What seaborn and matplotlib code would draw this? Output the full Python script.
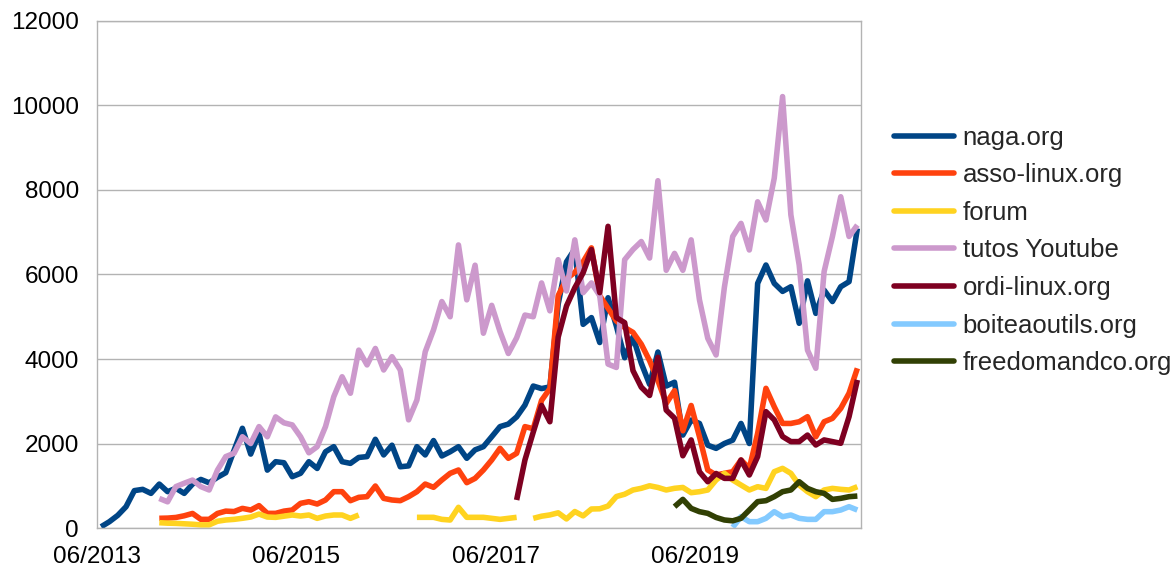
import numpy as np
import pandas as pd
import matplotlib
matplotlib.use("Agg")
import matplotlib.pyplot as plt
from matplotlib.lines import Line2D
import seaborn as sns

# Données mensuelles : 06/2013 -> 01/2021 (92 mois), None = pas de donnée
N = None

sites = ["naga.org", "asso-linux.org", "forum", "tutos Youtube",
         "ordi-linux.org", "boiteaoutils.org", "freedomandco.org"]
colors = ["#004586", "#ff420e", "#ffd320", "#cc99cc",
          "#7e0021", "#83caff", "#314004"]

tick_months = [0, 24, 48, 72]
tick_labels = ["06/2013", "06/2015", "06/2017", "06/2019"]

naga = [30, 150, 300, 505, 885, 915, 820, 1040, 860, 940,
        820, 1040, 1150, 1070, 1200, 1310, 1840, 2360, 1750, 2240,
        1370, 1570, 1545, 1215, 1295, 1570, 1410, 1805, 1925, 1570,
        1530, 1670, 1690, 2100, 1730, 1960, 1450, 1470, 1925, 1730,
        2070, 1705, 1805, 1925, 1650, 1850, 1925, 2160, 2400, 2460,
        2630, 2910, 3360, 3300, 3340, 5300, 6300, 6600, 4820, 4980,
        4390, 5450, 4780, 4030, 4520, 3900, 3400, 4165, 3360, 3450,
        2200, 2555, 2475, 1960, 1885, 2000, 2080, 2475, 2000, 5790,
        6225, 5790, 5600, 5710, 4845, 5850, 5080, 5630, 5360, 5710,
        5830, 7090]

asso = [N, N, N, N, N, N, N, 230, 235, 250,
        290, 345, 205, 205, 345, 400, 390, 465, 426, 530,
        347, 347, 400, 426, 584, 623, 568, 663, 860, 860,
        647, 726, 742, 994, 702, 663, 647, 742, 860, 1041,
        963, 1136, 1294, 1373, 1073, 1175, 1373, 1610, 1886, 1650,
        1768, 2400, 2350, 3020, 3300, 5500, 5900, 6050, 6300, 6630,
        5500, 5200, 4900, 4745, 4630, 4350, 3960, 3490, 2950, 3250,
        2300, 2900, 2160, 1373, 1255, 1294, 1333, 1610, 1412, 2240,
        3306, 2870, 2475, 2475, 2515, 2635, 2160, 2515, 2595, 2830,
        3190, 3780]

forum = [N, N, N, N, N, N, N, 126, 115, 110,
         100, 90, 75, 75, 160, 190, 205, 230, 260, 330,
         260, 252, 280, 308, 284, 308, 229, 284, 308, 308,
         229, 308, N, N, N, N, N, N, 253, 253,
         253, 205, 189, 490, 253, 253, 253, 229, 205, 229,
         253, N, 229, 280, 310, 360, 215, 390, 287, 450,
         455, 520, 745, 800, 900, 940, 1000, 960, 900, 940,
         960, 836, 860, 900, 1136, 1294, 1136, 1017, 900, 978,
         938, 1333, 1412, 1294, 1017, 860, 742, 900, 938, 915,
         900, 978]

tutos = [N, N, N, N, N, N, N, 700, 620, 980,
         1060, 1135, 980, 900, 1370, 1690, 1770, 2160, 2000, 2400,
         2160, 2630, 2490, 2440, 2160, 1780, 1925, 2400, 3110, 3580,
         3190, 4210, 3860, 4250, 3740, 4055, 3740, 2560, 3030, 4170,
         4690, 5360, 5000, 6700, 5400, 6220, 4610, 5270, 4650, 4130,
         4500, 5040, 5000, 5800, 5140, 6350, 5610, 6820, 5570, 5800,
         5500, 3880, 3800, 6350, 6590, 6780, 6390, 8220, 6100, 6500,
         6100, 6820, 5400, 4490, 4095, 5700, 6900, 7210, 6580, 7720,
         7290, 8280, 10210, 7410, 6225, 4210, 3780, 6070, 6900, 7840,
         6900, 7170]

ordi = [N] * 50 + [663, 1610, 2270, 2900, 2515, 4520, 5255, 5686, 6040, 6590,
                   5570, 7140, 4980, 4860, 3725, 3333, 3137, 4040, 2790, 2600,
                   1710, 2085, 1330, 1095, 1290, 1175, 1175, 1610, 1255, 1690,
                   2755, 2560, 2165, 2045, 2045, 2200, 1965, 2085, 2045, 2005,
                   2635, 3505]

boite = [N] * 76 + [16, 268, 150, 150, 229, 387, 268, 308, 229, 205,
                    205, 387, 387, 426, 505, 426]

freedom = [N] * 69 + [505, 678, 465, 387, 347, 250, 190, 170, 230, 426,
                      624, 647, 742, 860, 900, 1096, 938, 860, 820, 678,
                      702, 742, 757]

series = [naga, asso, forum, tutos, ordi, boite, freedom]

# Tableau long : un "run" par tronçon continu (les trous restent des trous)
rows = []
for site, values in zip(sites, series):
    run = 0
    prev_ok = False
    for i, v in enumerate(values):
        if v is None:
            prev_ok = False
            continue
        if not prev_ok:
            run += 1
        rows.append({"mois": i + 0.5, "visites": v, "site": site,
                     "run": f"{site}-{run}"})
        prev_ok = True
df = pd.DataFrame(rows)

sns.set_style("white")
plt.rcParams["font.family"] = ["Liberation Sans", "DejaVu Sans"]

fig = plt.figure(figsize=(11.71, 5.73), dpi=100)
ax = fig.add_axes([0.0828, 0.0785, 0.6522, 0.8849])

sns.lineplot(
    data=df, x="mois", y="visites",
    hue="site", hue_order=sites, palette=colors,
    units="run", estimator=None, sort=False,
    linewidth=4, legend=False, ax=ax,
    solid_joinstyle="round", solid_capstyle="butt",
)

grid_col = "#b3b3b3"
ax.set_xlim(0, 91.9)
ax.set_ylim(0, 12000)
ax.set_yticks(range(0, 12001, 2000))
ax.set_xticks(tick_months)
ax.set_xticklabels(tick_labels)
ax.set_xlabel("")
ax.set_ylabel("")
ax.yaxis.grid(True, color=grid_col, linewidth=1)
ax.xaxis.grid(False)
ax.set_axisbelow(True)
for sp in ax.spines.values():
    sp.set_color(grid_col)
    sp.set_linewidth(1)
ax.tick_params(axis="both", which="major", direction="out", color=grid_col,
               length=5, width=1, labelsize=17.5, labelcolor="black", pad=8)
ax.tick_params(axis="x", length=7, pad=6)

handles = [Line2D([0], [0], color=c, linewidth=4) for c in colors]
fig.legend(
    handles, sites, loc="center left", bbox_to_anchor=(0.7634, 0.563),
    frameon=False, fontsize=18.5, handlelength=2.33, handletextpad=0.35,
    labelspacing=0.53, borderpad=0, borderaxespad=0,
)

fig.savefig("out.png", dpi=100)
